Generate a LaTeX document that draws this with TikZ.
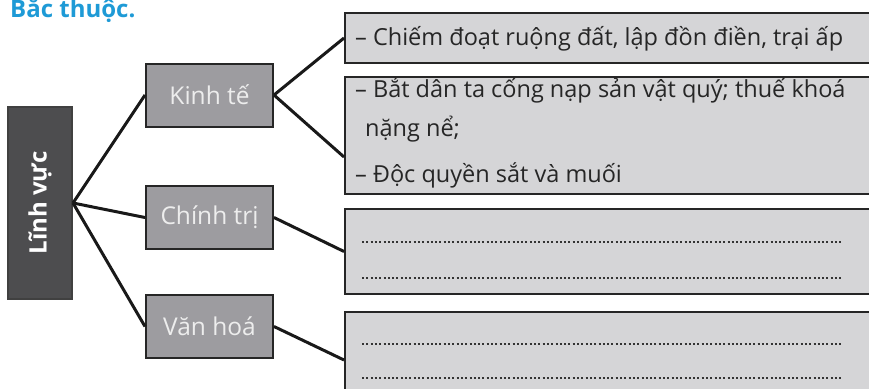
\documentclass[tikz,border=0pt]{standalone}
\usepackage{fontspec}
\setmainfont{Open Sans}
\usepackage{tikz}

\definecolor{fielddark}{HTML}{4D4D4F}
\definecolor{areagray}{HTML}{9D9CA0}
\definecolor{notegray}{HTML}{D5D5D7}
\definecolor{titleblue}{HTML}{1E9AD6}

\begin{document}
\begin{tikzpicture}[x=1pt,y=-1pt,
	field box/.style={rectangle,draw=black!75,line width=2pt,fill=fielddark,minimum width=64pt,minimum height=192pt},
	area box/.style={rectangle,draw=black!85,line width=2pt,fill=areagray,text=white!93!black,font=\fontsize{24.5}{28}\selectfont,minimum width=127pt,minimum height=63pt,inner sep=0pt},
	note box/.style={rectangle,draw=black!85,line width=2pt,fill=notegray,minimum width=536pt,anchor=north west,inner sep=0pt},
	note/.style={anchor=base west,inner sep=0pt,font=\fontsize{23.5}{27}\selectfont,text=black!85},
	blank/.style={line width=2.2pt,black!80,dash pattern=on 2pt off 2.3pt},
	link/.style={line width=3pt,black!90}]
	\useasboundingbox (0,0) rectangle (869,388);
	\clip (0,0) rectangle (869,388);
	\node[anchor=base west,inner sep=0pt,text=titleblue,font=\fontsize{24}{28}\selectfont\bfseries] (title) at (10,17) {Bắc thuộc.};
	\draw (40,203) node(field) [field box] {}
	      (209.5,95) node(economy) [area box] {Kinh tế}
	      (209.5,217.5) node(politics) [area box] {Chính trị}
	      (209.5,326.5) node(culture) [area box] {Văn hoá};
	\node[rotate=90,text=white,font=\fontsize{24}{28}\selectfont\bfseries] (fieldtext) at (field) {Lĩnh vực};
	\draw (344,12) node(econa) [note box,minimum height=50pt] {}
	      (344,76) node(econb) [note box,minimum height=117pt] {}
	      (344,208) node(polnote) [note box,minimum height=85pt] {}
	      (344,311) node(culnote) [note box,minimum height=96pt] {};
	\node[note] (econa1) at (355,45) {– Chiếm đoạt ruộng đất, lập đồn điền, trại ấp};
	\node[note] (econb1) at (355,97) {– Bắt dân ta cống nạp sản vật quý; thuế khoá};
	\node[note] (econb2) at (365,136) {nặng nể;};
	\node[note] (econb3) at (355,182) {– Độc quyền sắt và muối};
	\foreach \y in {242,278,344,378}
		\draw[blank] (362,\y) -- (843,\y);
	\draw[link] (field.east) -- (economy.west);
	\draw[link] (field.east) -- (politics.west);
	\draw[link] (field.east) -- (culture.west);
	\draw[link] (economy.east) -- (econa.west);
	\draw[link] (economy.east) -- ([yshift=-21.5pt]econb.west);
	\draw[link] (politics.east) -- (polnote.west);
	\draw[link] (culture.east) -- (culnote.west);
\end{tikzpicture}
\end{document}
